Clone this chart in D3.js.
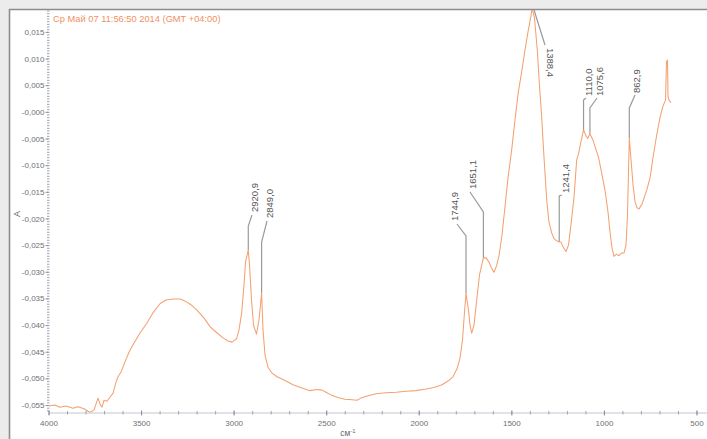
<!DOCTYPE html>
<html><head><meta charset="utf-8">
<script src="https://cdn.jsdelivr.net/npm/d3@7"></script>
<style>body{margin:0;background:#ececec;} svg{display:block;font-family:"Liberation Sans",Arial,sans-serif;}</style>
</head><body><svg id="c" width="707" height="439"></svg>
<script>
// ---- data ----
const title = "Ср Май 07 11:56:50 2014 (GMT +04:00)";
const wavenumbers = [
 4000, 3964.9, 3937.9, 3905.5, 3867.7, 3840.7, 3808.3, 3775.8, 3754.2, 3732.6,
 3721.8, 3711, 3700.2, 3684, 3667.8, 3651.6, 3635.4, 3624.6, 3608.4, 3586.8,
 3565.2, 3543.6, 3505.8, 3468, 3435.6, 3397.8, 3365.4, 3327.5, 3289.7, 3262.7,
 3230.3, 3197.9, 3160.1, 3127.7, 3095.3, 3057.5, 3030.5, 3008.9, 2984.6, 2971.1,
 2956.5, 2944.1, 2936, 2920.9, 2914.3, 2903.5, 2892.7, 2876.5, 2863, 2849,
 2841.4, 2830.6, 2814.4, 2792.8, 2765.8, 2722.6, 2679.4, 2630.8, 2587.6, 2549.8,
 2522.8, 2501.2, 2474.1, 2436.3, 2398.5, 2360.7, 2333.7, 2312.1, 2279.7, 2231.1,
 2177.1, 2123.1, 2069.1, 2015.1, 1961, 1917.8, 1874.6, 1842.2, 1815.2, 1793.6,
 1777.4, 1763.9, 1753.1, 1744.9, 1731.5, 1723.4, 1714.2, 1701.8, 1687.2, 1672,
 1651.1, 1636.9, 1620.7, 1607.2, 1593.7, 1580.2, 1566.7, 1550.5, 1534.3, 1518.1,
 1498.1, 1480.3, 1462.5, 1445.2, 1426.3, 1410.1, 1393.9, 1388.4, 1375, 1359.9,
 1348.1, 1336.2, 1323.7, 1309.1, 1296.7, 1282.2, 1269.7, 1255.1, 1241.4, 1232.4,
 1218.3, 1204.8, 1191.3, 1175.1, 1161.6, 1147, 1137.3, 1123.8, 1110, 1096.7,
 1087.6, 1075.6, 1059, 1042.8, 1029.3, 1013.1, 994.2, 978, 967.2, 956.4,
 945.6, 932.1, 918.6, 905.1, 891.6, 880.8, 872.7, 862.9, 853.6, 842.8,
 832, 821.2, 810.4, 794.2, 768.8, 751, 734.8, 714.8, 697, 680.8,
 667.3, 662, 656.5, 653.8, 648.5, 637.7
];
const absorbance = [
 -0.0552, -0.0550, -0.0554, -0.0552, -0.0556, -0.0553, -0.0557, -0.0564, -0.0559, -0.0537,
 -0.0548, -0.0554, -0.0541, -0.0543, -0.0535, -0.0528, -0.0507, -0.0497, -0.0488, -0.0469,
 -0.0451, -0.0437, -0.0415, -0.0396, -0.0377, -0.0360, -0.0353, -0.0351, -0.0351, -0.0355,
 -0.0362, -0.0372, -0.0387, -0.0403, -0.0413, -0.0424, -0.0430, -0.0432, -0.0426, -0.0409,
 -0.0377, -0.0325, -0.0282, -0.0259, -0.0287, -0.0353, -0.0400, -0.0417, -0.0390, -0.0340,
 -0.0409, -0.0456, -0.0479, -0.0490, -0.0497, -0.0504, -0.0512, -0.0518, -0.0523, -0.0521,
 -0.0522, -0.0526, -0.0531, -0.0536, -0.0539, -0.0540, -0.0541, -0.0537, -0.0533, -0.0529,
 -0.0527, -0.0526, -0.0524, -0.0523, -0.0520, -0.0517, -0.0512, -0.0505, -0.0497, -0.0482,
 -0.0462, -0.0428, -0.0376, -0.0340, -0.0372, -0.0400, -0.0415, -0.0400, -0.0353, -0.0306,
 -0.0274, -0.0274, -0.0282, -0.0293, -0.0301, -0.0289, -0.0270, -0.0231, -0.0178, -0.0124,
 -0.0071, -0.0015, 0.0037, 0.0073, 0.0116, 0.0150, 0.0180, 0.0195, 0.0176, 0.0116,
 0.0050, -0.0010, -0.0085, -0.0165, -0.0207, -0.0227, -0.0238, -0.0242, -0.0244, -0.0244,
 -0.0255, -0.0262, -0.0250, -0.0203, -0.0160, -0.0090, -0.0079, -0.0056, -0.0034, -0.0045,
 -0.0050, -0.0041, -0.0053, -0.0071, -0.0085, -0.0113, -0.0147, -0.0188, -0.0225, -0.0255,
 -0.0271, -0.0267, -0.0270, -0.0265, -0.0265, -0.0250, -0.0194, -0.0049, -0.0090, -0.0137,
 -0.0169, -0.0180, -0.0182, -0.0173, -0.0147, -0.0124, -0.0086, -0.0043, -0.0011, 0.0011,
 0.0022, 0.0094, 0.0097, 0.0028, 0.0022, 0.0017
];
const peakWavenumbers = [2920.9, 2849.0, 1744.9, 1651.1, 1388.4, 1241.4, 1110.0, 1075.6, 862.9];
const peakLabels = ["2920,9", "2849,0", "1744,9", "1651,1", "1388,4", "1241,4", "1110,0", "1075,6", "862,9"];
const yTicks = [0.015, 0.010, 0.005, 0.000, -0.005, -0.010, -0.015, -0.020, -0.025, -0.030, -0.035, -0.040, -0.045, -0.050, -0.055];
const yTickLabels = ["0,015", "0,010", "0,005", "-0,000", "-0,005", "-0,010", "-0,015", "-0,020", "-0,025", "-0,030", "-0,035", "-0,040", "-0,045", "-0,050", "-0,055"];
const xTicks = [4000, 3500, 3000, 2500, 2000, 1500, 1000, 500];
const xTickLabels = ["4000", "3500", "3000", "2500", "2000", "1500", "1000", "500"];
const xLabel = "см";
const yLabel = "A";

// ---- label layout (pixel positions for leaders / rotated texts) ----
const labelLayout = [
 {vEnd:226, lx:252, ly:215, tx:255, ty:212, rot:-90},
 {vEnd:242, lx:267, ly:221, tx:270, ty:218, rot:-90},
 {vEnd:236, lx:457, ly:224, tx:455, ty:221, rot:-90},
 {vEnd:212, lx:470, ly:192, tx:473, ty:189, rot:-90},
 {vEnd:null, lx:545, ly:45, tx:550, ty:48, rot:90},
 {vEnd:196, lx:562, ly:195, tx:566, ty:193, rot:-90},
 {vEnd:100, lx:586, ly:98, tx:589, ty:96, rot:-90},
 {vEnd:108, lx:597, ly:98, tx:600, ty:96, rot:-90},
 {vEnd:108, lx:635, ly:95, tx:637, ty:93, rot:-90}
];

// ---- drawing ----
const svg = d3.select("#c");
const W = 707, H = 439;
const plot = {left:48.5, top:10, right:707.6, bottom:412.5};

svg.append("rect").attr("width", W).attr("height", H).attr("fill", "#ececec");
svg.append("rect").attr("x", 10).attr("y", 10).attr("width", W - 10).attr("height", H - 10).attr("fill", "#ffffff");
svg.append("line").attr("x1", 9.5).attr("x2", 9.5).attr("y1", 9).attr("y2", H).attr("stroke", "#8c8c8c").attr("stroke-width", 1.6);
svg.append("line").attr("x1", 9).attr("x2", W).attr("y1", 9.5).attr("y2", 9.5).attr("stroke", "#8c8c8c").attr("stroke-width", 1.6);

const x = d3.scaleLinear().domain([4000, 440]).range([plot.left, plot.right]);
const y = d3.scaleLinear().domain([-0.0564, 0.0191]).range([plot.bottom, plot.top]);

// y axis: dotted minor ticks
const yMinor = d3.range(-0.056, 0.0191, 0.0005);
const gyMinor = svg.append("g").attr("transform", `translate(${plot.left},0)`)
  .call(d3.axisLeft(y).tickValues(yMinor).tickSize(2).tickFormat(""));
gyMinor.select(".domain").remove();
gyMinor.selectAll(".tick line").attr("stroke", "#9ea4b4").attr("x2", 1).attr("x1", -1.5);

const gy = svg.append("g").attr("transform", `translate(${plot.left},0)`)
  .call(d3.axisLeft(y).tickValues(yTicks).tickSize(3).tickPadding(1).tickFormat((d, i) => yTickLabels[i]));
gy.select(".domain").remove();
gy.selectAll(".tick line").attr("stroke", "#8a8f9c");
gy.selectAll(".tick text").attr("fill", "#707070").style("font-size", "8px");

// x axis
const xMinor = d3.range(4000, 440, -100);
const gxMinor = svg.append("g").attr("transform", `translate(0,${plot.bottom})`)
  .call(d3.axisBottom(x).tickValues(xMinor).tickSize(2).tickFormat(""));
gxMinor.select(".domain").attr("stroke", "#c3c6cf");
gxMinor.selectAll(".tick line").attr("stroke", "#a0a4b0").attr("y1", -1.5);

const gx = svg.append("g").attr("transform", `translate(0,${plot.bottom})`)
  .call(d3.axisBottom(x).tickValues(xTicks).tickSize(3).tickPadding(5).tickFormat((d, i) => xTickLabels[i]));
gx.select(".domain").remove();
gx.selectAll(".tick line").attr("stroke", "#8a8f9c").attr("y1", -2);
gx.selectAll(".tick text").attr("fill", "#707070").style("font-size", "8px");

// axis titles
const xl = svg.append("text").attr("x", 348).attr("y", 436).attr("text-anchor", "middle")
  .attr("fill", "#6a6a6a").style("font-size", "8.5px").text(xLabel);
xl.append("tspan").attr("dy", -3).style("font-size", "6px").text("-1");
svg.append("text").attr("transform", "translate(20,214) rotate(-90)").attr("text-anchor", "middle")
  .attr("fill", "#6a6a6a").style("font-size", "9px").text(yLabel);

// title
svg.append("text").attr("x", 53).attr("y", 21.5).attr("fill", "#f2905f").style("font-size", "9.3px").text(title);

// clip
svg.append("clipPath").attr("id", "clip").append("rect")
  .attr("x", plot.left).attr("y", plot.top).attr("width", plot.right - plot.left).attr("height", plot.bottom - plot.top);

const data = wavenumbers.map((w, i) => [w, absorbance[i]]);

// peak labels (leaders under the line)
const lg = svg.append("g");
peakWavenumbers.forEach((pw, i) => {
  const idx = wavenumbers.indexOf(pw);
  const px = x(pw);
  const py = Math.max(y(absorbance[idx]), plot.top);
  const L = labelLayout[i];
  let path;
  if (L.vEnd === null) path = `M${px + 2},${py} L${L.lx},${L.ly}`;
  else path = `M${px},${py} V${L.vEnd} L${L.lx},${L.ly}`;
  lg.append("path").attr("d", path).attr("fill", "none").attr("stroke", "#9a9a9a").attr("stroke-width", 1.2);
  lg.append("text").attr("transform", `translate(${L.tx},${L.ty}) rotate(${L.rot})`)
    .attr("dy", "0.35em").attr("text-anchor", "start")
    .attr("fill", "#555").style("font-size", "9.5px").text(peakLabels[i]);
});

// spectrum line
svg.append("path").datum(data).attr("clip-path", "url(#clip)")
  .attr("fill", "none").attr("stroke", "#f4a070").attr("stroke-width", 1.05)
  .attr("stroke-linejoin", "round")
  .attr("d", d3.line().x(d => x(d[0])).y(d => y(d[1])));
</script></body></html>
